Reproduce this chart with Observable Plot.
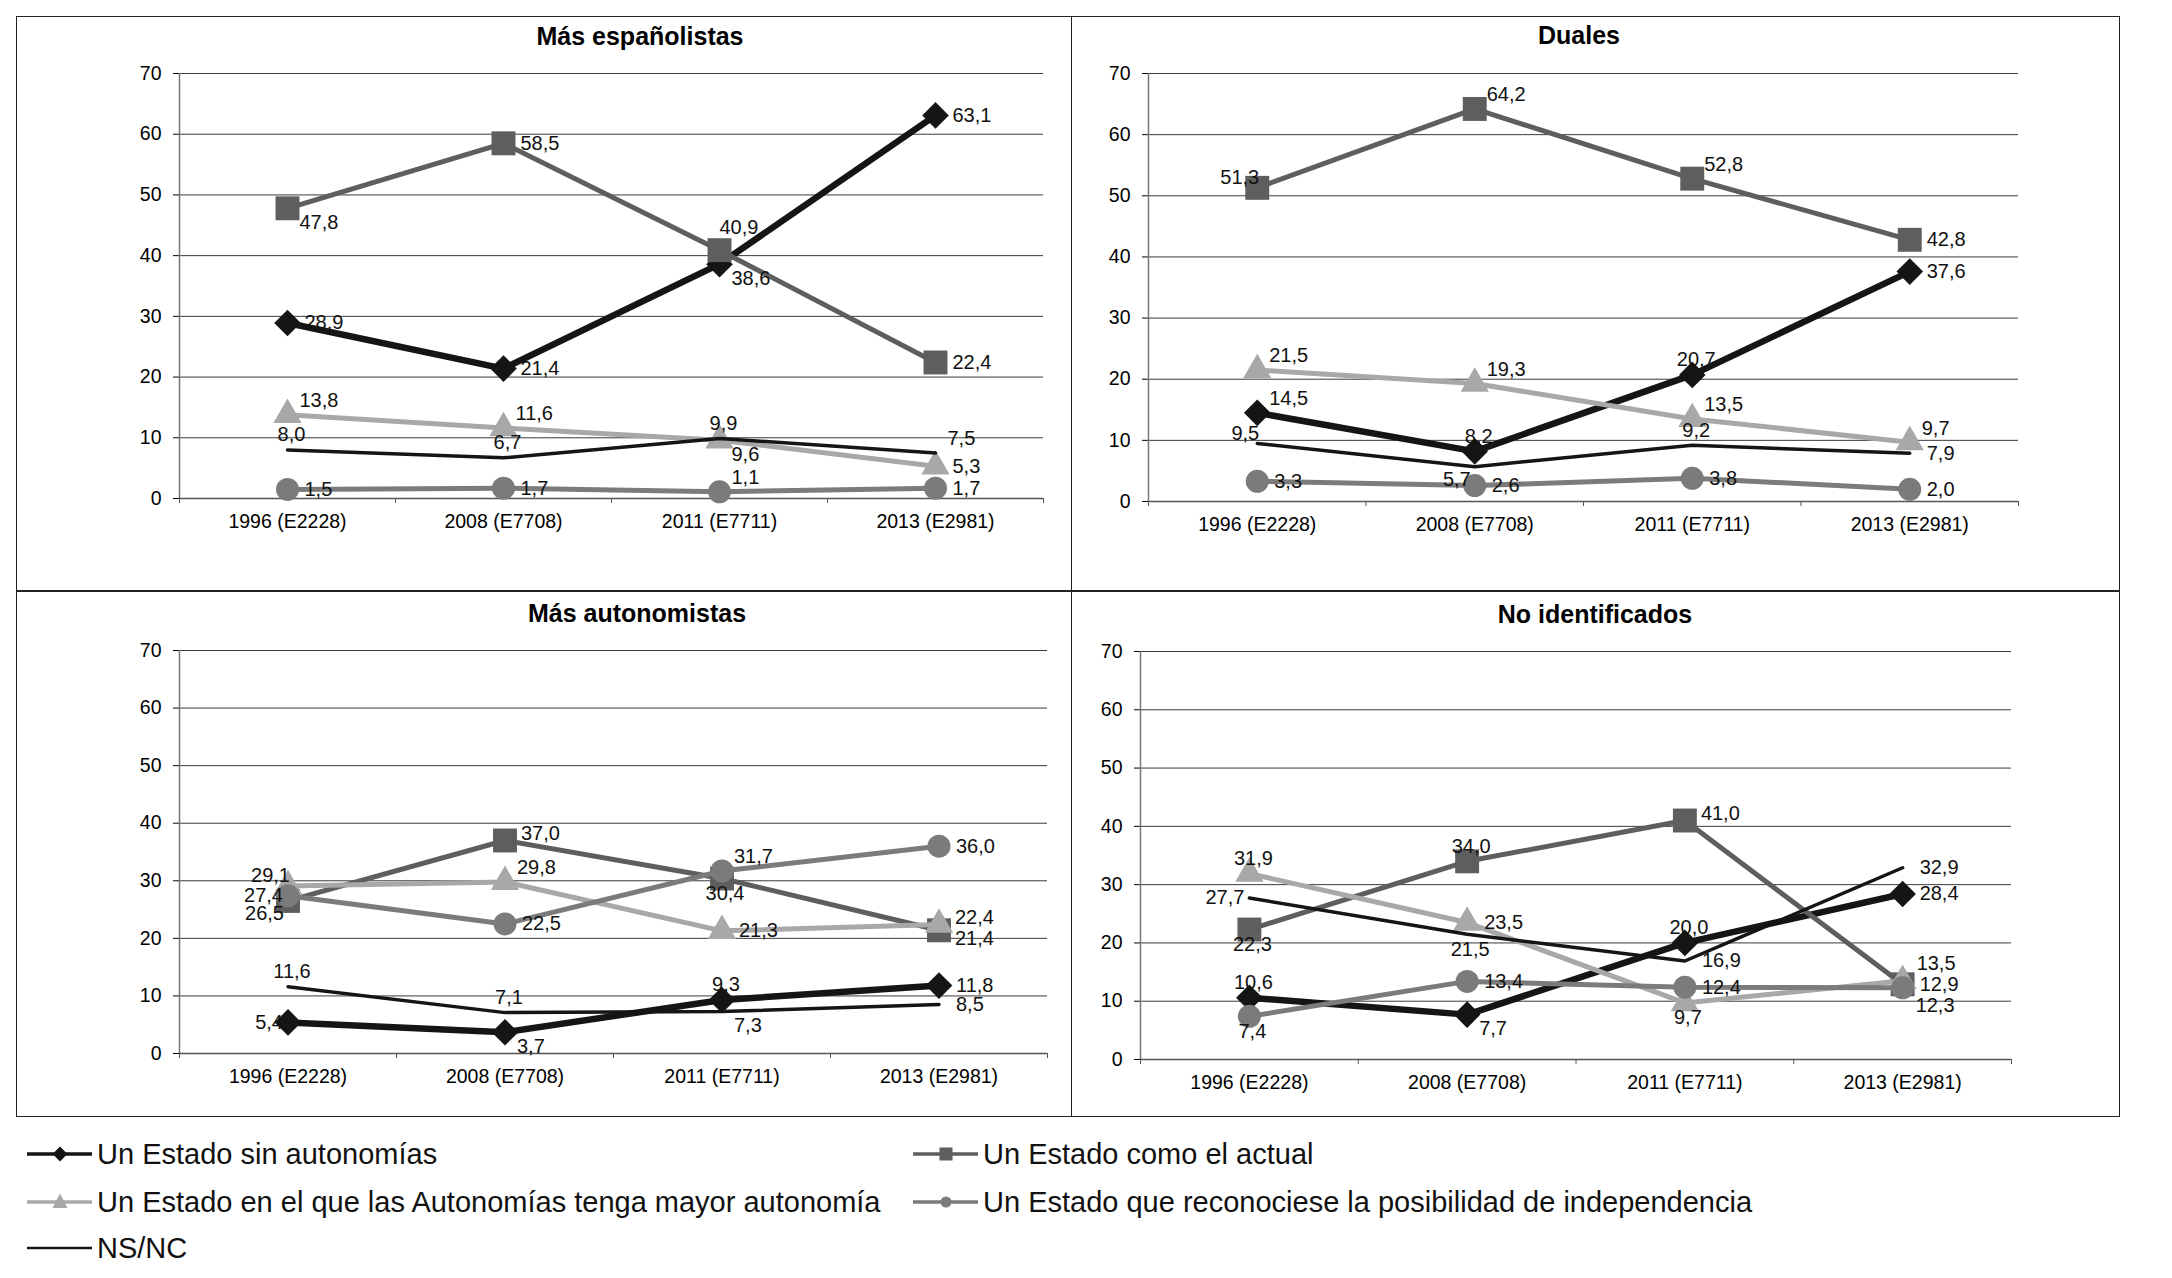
<!DOCTYPE html>
<html><head><meta charset="utf-8">
<script src="https://cdn.jsdelivr.net/npm/d3@7"></script>
<script src="https://cdn.jsdelivr.net/npm/@observablehq/plot@0.6"></script>
<style>
body{margin:0;background:#fff;font-family:Arial,"Liberation Sans",sans-serif;}
#root{position:relative;width:2172px;height:1278px;overflow:hidden;background:#fff}
.box{position:absolute;box-sizing:border-box}
.title{position:absolute;width:800px;text-align:center;font-weight:bold;font-size:25px;line-height:25px;color:#000;white-space:nowrap}
.leg{position:absolute;height:40px;line-height:40px;font-size:29px;color:#111;white-space:nowrap}
.sw{position:absolute;width:66px;height:40px}
</style></head><body><div id="root"></div><script>
// ---------- DATA ----------
const categories = ["1996 (E2228)", "2008 (E7708)", "2011 (E7711)", "2013 (E2981)"];
const seriesNames = [
  "Un Estado sin autonomías",
  "Un Estado como el actual",
  "Un Estado en el que las Autonomías tenga mayor autonomía",
  "Un Estado que reconociese la posibilidad de independencia",
  "NS/NC"
];
const panelTitles = ["Más españolistas", "Duales", "Más autonomistas", "No identificados"];
const yTicks = [0, 10, 20, 30, 40, 50, 60, 70];

// values per panel, one list per series (same order as seriesNames)
const masEspanolistas = [
  [28.9, 21.4, 38.6, 63.1],
  [47.8, 58.5, 40.9, 22.4],
  [13.8, 11.6, 9.6, 5.3],
  [1.5, 1.7, 1.1, 1.7],
  [8.0, 6.7, 9.9, 7.5]
];
const duales = [
  [14.5, 8.2, 20.7, 37.6],
  [51.3, 64.2, 52.8, 42.8],
  [21.5, 19.3, 13.5, 9.7],
  [3.3, 2.6, 3.8, 2.0],
  [9.5, 5.7, 9.2, 7.9]
];
const masAutonomistas = [
  [5.4, 3.7, 9.3, 11.8],
  [26.5, 37.0, 30.4, 21.4],
  [29.1, 29.8, 21.3, 22.4],
  [27.4, 22.5, 31.7, 36.0],
  [11.6, 7.1, 7.3, 8.5]
];
const noIdentificados = [
  [10.6, 7.7, 20.0, 28.4],
  [22.3, 34.0, 41.0, 12.9],
  [31.9, 23.5, 9.7, 13.5],
  [7.4, 13.4, 12.4, 12.3],
  [27.7, 21.5, 16.9, 32.9]
];
const panelValues = [masEspanolistas, duales, masAutonomistas, noIdentificados];

// ---------- STYLE / LAYOUT ----------
// data-label placement codes (per panel, per series, per category)
const labelPos = [
  [["R","R","RD","R"], ["RD","R","UR","R"], ["RU","RU","RD","R"], ["R","R","RU","R"], ["U","U","U","RU"]],
  [["RU","U","U","R"], ["LU","RU","RU","R"], ["RU","RU","RU","RU"], ["R","R","R","R"], ["LU","LD","U","R"]],
  [["L","RD","U","R"], ["LD","Ru","D","Rd"], ["LU","RU","R","Ru"], ["L","R","RU","R"], ["U","U","RD","R"]],
  [["U","RD","U","R"], ["D","U","Ru","R"], ["U","R","D","RUU"], ["D","R","R","RDD"], ["L","D","R","R"]]
];
const labelOffsets = {
  R:   {dx: 17, dy: 0,   anchor: "start"},
  Ru:  {dx: 16, dy: -7,  anchor: "start"},
  Rd:  {dx: 16, dy: 8,   anchor: "start"},
  RU:  {dx: 12, dy: -14, anchor: "start"},
  RUU: {dx: 14, dy: -17, anchor: "start"},
  RD:  {dx: 12, dy: 14,  anchor: "start"},
  RDD: {dx: 13, dy: 18,  anchor: "start"},
  U:   {dx: 4,  dy: -15, anchor: "middle"},
  UR:  {dx: 0,  dy: -23, anchor: "start"},
  D:   {dx: 3,  dy: 15,  anchor: "middle"},
  L:   {dx: -5, dy: 0,   anchor: "end"},
  LU:  {dx: 2,  dy: -10, anchor: "end"},
  LD:  {dx: -4, dy: 13,  anchor: "end"}
};
const seriesStyle = [
  {stroke: "#151515", width: 6.5, symbol: "diamond2", r: 12},
  {stroke: "#5e5e5e", width: 5,   symbol: "square",   r: 13.5},
  {stroke: "#a8a8a8", width: 5,   symbol: "triangle", r: 10.5},
  {stroke: "#7b7b7b", width: 5,   symbol: "circle",   r: 11.5},
  {stroke: "#151515", width: 3.5, symbol: null,       r: 0}
];
const panelLayout = [
  {left: 16,   top: 16,  width: 1055, height: 575, ml: 163, mr: 28,  mt: 57, mb: 93, tx: 640,  ty: 36.5},
  {left: 1071, top: 16,  width: 1048, height: 575, ml: 77,  mr: 101, mt: 57, mb: 90, tx: 1579, ty: 35},
  {left: 16,   top: 591, width: 1055, height: 525, ml: 163, mr: 24,  mt: 59, mb: 63, tx: 637,  ty: 613},
  {left: 1071, top: 591, width: 1048, height: 525, ml: 69,  mr: 108, mt: 60, mb: 57, tx: 1595, ty: 614}
];

const fmt = v => v.toFixed(1).replace(".", ",");
const root = document.getElementById("root");

function makePanel(k) {
  const L = panelLayout[k];
  const vals = panelValues[k];
  const edges = d3.range(categories.length + 1).map(i => i - 0.5);
  const marks = [
    Plot.ruleY(yTicks.slice(1), {stroke: "#3a3a3a", strokeWidth: 1}),
    Plot.axisY({ticks: yTicks, tickSize: 6, tickPadding: 12, fontSize: 19.5, label: null}),
    Plot.ruleX([-0.5], {stroke: "#777", strokeWidth: 1.5}),
    Plot.ruleY([0], {stroke: "#555", strokeWidth: 1.5}),
    Plot.axisX({ticks: edges, tickSize: 5, tickFormat: () => "", label: null, stroke: "#555"}),
    Plot.axisX({ticks: d3.range(categories.length), tickSize: 0, tickPadding: 16, fontSize: 19.5,
                tickFormat: i => categories[i], label: null})
  ];
  const allRows = [];
  vals.forEach((series, s) => {
    const st = seriesStyle[s];
    const rows = series.map((v, i) => ({x: i, y: v, label: fmt(v), pos: labelPos[k][s][i], s}));
    allRows.push(...rows);
    marks.push(Plot.line(rows, {x: "x", y: "y", stroke: st.stroke, strokeWidth: st.width, strokeLinejoin: "round"}));
    if (st.symbol) {
      marks.push(Plot.dot(rows, {x: "x", y: "y", symbol: st.symbol, r: st.r, fill: st.stroke, stroke: "none"}));
    }
  });
  for (const [code, o] of Object.entries(labelOffsets)) {
    const subset = allRows.filter(d => d.pos === code);
    if (!subset.length) continue;
    marks.push(Plot.text(subset, {x: "x", y: "y", text: "label", dx: o.dx, dy: o.dy,
      textAnchor: o.anchor, fontSize: 20, fill: "#111"}));
  }
  const svg = Plot.plot({
    width: L.width, height: L.height,
    marginLeft: L.ml, marginRight: L.mr, marginTop: L.mt, marginBottom: L.mb,
    x: {type: "linear", domain: [-0.5, categories.length - 0.5], label: null},
    y: {domain: [0, 70], label: null},
    style: {fontFamily: "Arial, 'Liberation Sans', sans-serif", fontSize: "19.5px", color: "#000", background: "transparent", overflow: "visible"},
    marks
  });
  svg.style.position = "absolute";
  svg.style.left = L.left + "px";
  svg.style.top = L.top + "px";
  root.appendChild(svg);

  const t = document.createElement("div");
  t.className = "title";
  t.textContent = panelTitles[k];
  t.style.left = (L.tx - 400) + "px";
  t.style.top = (L.ty - 12.5) + "px";
  root.appendChild(t);
}

// frame and dividers
function box(l, t, w, h, css) {
  const d = document.createElement("div");
  d.className = "box";
  Object.assign(d.style, {left: l + "px", top: t + "px", width: w + "px", height: h + "px"}, css);
  root.appendChild(d);
}
box(16, 16, 2104, 1101, {border: "1.5px solid #222"});
box(1070.5, 16, 1.5, 1101, {background: "#222"});
box(16, 590, 2104, 1.5, {background: "#222"});

for (let k = 0; k < 4; k++) makePanel(k);

// legend
const legendLayout = [
  {col: 0, row: 0}, {col: 1, row: 0}, {col: 0, row: 1}, {col: 1, row: 1}, {col: 0, row: 2}
];
const colX = [27, 913];
const rowY = [1154, 1202, 1248];
const legSym = [
  '<path d="M33 12.5 L40.5 20 L33 27.5 L25.5 20 Z" fill="#151515"/>',
  '<rect x="26.5" y="13.5" width="13" height="13" fill="#5e5e5e"/>',
  '<path d="M33 11.5 L40.5 26 L25.5 26 Z" fill="#a8a8a8"/>',
  '<circle cx="33" cy="20" r="5.5" fill="#7b7b7b"/>',
  ''
];
const legW = [3.5, 3.3, 3.3, 3.3, 2.3];
seriesNames.forEach((name, s) => {
  const p = legendLayout[s];
  const sw = document.createElement("div");
  sw.className = "sw";
  sw.style.left = colX[p.col] + "px";
  sw.style.top = (rowY[p.row] - 20) + "px";
  sw.innerHTML = `<svg width="66" height="40"><line x1="0" x2="65" y1="20" y2="20" stroke="${seriesStyle[s].stroke}" stroke-width="${legW[s]}"/>${legSym[s]}</svg>`;
  root.appendChild(sw);
  const tx = document.createElement("div");
  tx.className = "leg";
  tx.textContent = name;
  tx.style.left = (colX[p.col] + 70) + "px";
  tx.style.top = (rowY[p.row] - 20) + "px";
  root.appendChild(tx);
});
</script></body></html>
